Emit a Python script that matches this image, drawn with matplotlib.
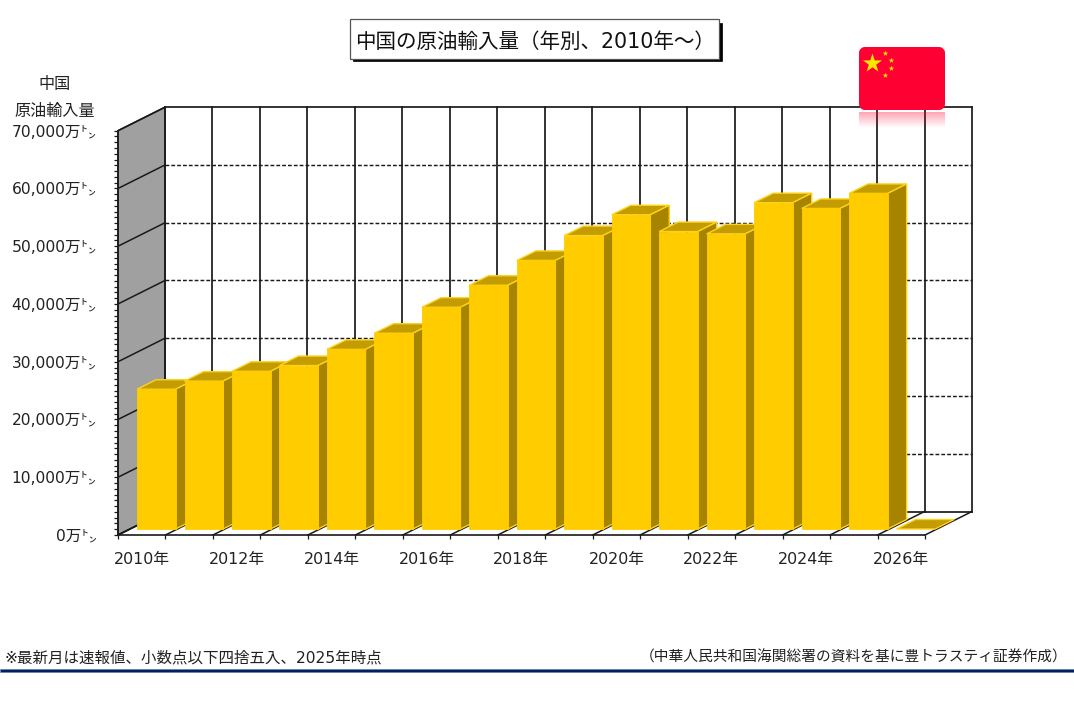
import numpy as np
import matplotlib
matplotlib.use("Agg")
import matplotlib.pyplot as plt
from matplotlib.patches import Polygon, Rectangle, FancyBboxPatch

plt.rcParams['font.family'] = ['DejaVu Sans', 'Noto Sans CJK JP']

years = list(range(2010, 2027))
values = [24200, 25600, 27300, 28300, 31100, 33900, 38400, 42200, 46500, 50800,
          54400, 51500, 51100, 56500, 55500, 58100, 0]
y_ticks = [0, 10000, 20000, 30000, 40000, 50000, 60000, 70000]
y_labels = ['0万㌧', '10,000万㌧', '20,000万㌧', '30,000万㌧', '40,000万㌧',
            '50,000万㌧', '60,000万㌧', '70,000万㌧']
title = '中国の原油輸入量（年別、2010年～）'
note_left = '※最新月は速報値、小数点以下四捨五入、2025年時点'
note_right = '（中華人民共和国海関総署の資料を基に豊トラスティ証券作成）'

W, H = 1074, 707
fig = plt.figure(figsize=(W / 100, H / 100), dpi=100, facecolor='white')
L, R, T, B = 118, 925, 130.7, 535
ax = fig.add_axes([L / W, 1 - B / H, (R - L) / W, (B - T) / H])
n = len(years)
ax.set_xlim(-0.5, n - 0.5)
ax.set_ylim(0, 70000)
ax.patch.set_alpha(0)

px = (R - L) / n            # pixels per category
py = (B - T) / 70000        # pixels per unit
DX, DY = 47 / px, 23.5 / py   # wall depth in data units
LINE = '#1A1A1A'

# left wall
ax.add_patch(Polygon([(-0.5, 0), (-0.5 + DX, DY), (-0.5 + DX, 70000 + DY), (-0.5, 70000)],
                     closed=True, fc='#A0A0A0', ec=LINE, lw=1.1, zorder=1, clip_on=False))
# back wall grid
for k in range(n + 1):
    xb = -0.5 + k + DX
    ax.plot([xb, xb], [DY, 70000 + DY], color=LINE, lw=1.25, zorder=1.5, clip_on=False)
    ax.plot([-0.5 + k, xb], [0, DY], color=LINE, lw=1.1, zorder=1.5, clip_on=False)
for v in y_ticks:
    ax.plot([-0.5, -0.5 + DX], [v, v + DY], color=LINE, lw=1.1, zorder=1.6, clip_on=False)
    style = dict(ls='-', lw=1.25) if v in (0, 70000) else dict(ls=(0, (2.6, 1.4)), lw=1.05)
    ax.plot([-0.5 + DX, n - 0.5 + DX], [v + DY, v + DY], color=LINE, zorder=1.6,
            clip_on=False, **style)

# bars
bw = 38.5 / px
bar_dx, bar_dy = 19 / px, 9.5 / py
base = 6 / py
off = 14.6 / px
FRONT, SIDE, TOP, EDGE = '#FFCC00', '#A68400', '#C29C00', '#FFD21A'
for i, v in enumerate(values):
    x0 = i + off - bw / 2
    x1 = x0 + bw
    z = 3 + i * 0.01
    y0, y1 = base, base + v
    ax.add_patch(Polygon([(x0, y1), (x1, y1), (x1 + bar_dx, y1 + bar_dy), (x0 + bar_dx, y1 + bar_dy)],
                         closed=True, fc=TOP, ec=EDGE, lw=1.0, zorder=z, clip_on=False))
    if v > 0:
        ax.add_patch(Polygon([(x1, y0), (x1 + bar_dx, y0 + bar_dy), (x1 + bar_dx, y1 + bar_dy), (x1, y1)],
                             closed=True, fc=SIDE, ec=EDGE, lw=1.0, zorder=z, clip_on=False))
        ax.bar(i + off, v, width=bw, bottom=base, color=FRONT, edgecolor=FRONT, lw=0.6,
               zorder=z + 0.001, clip_on=False)

# axes furniture
for s in ('top', 'right'):
    ax.spines[s].set_visible(False)
for s in ('left', 'bottom'):
    ax.spines[s].set_color(LINE)
    ax.spines[s].set_linewidth(1.2)
    ax.spines[s].set_zorder(5)
ax.set_yticks(y_ticks, y_labels, fontsize=11.2, color='#222222')
ax.set_yticks(np.arange(0, 70001, 1000), minor=True)
ax.tick_params(axis='y', which='both', length=3, width=0.9, color=LINE, pad=12.5)
centers = list(range(0, n, 2))
ax.set_xticks(centers, [f'{years[i]}年' for i in centers], fontsize=11.4, color='#222222')
ax.set_xticks(np.arange(n + 1) - 0.5, minor=True)
ax.tick_params(axis='x', which='major', length=0, pad=12.5)
ax.tick_params(axis='x', which='minor', length=3, width=0.9, color=LINE)

# overlay in pixel coordinates for titles, flag, footer
ov = fig.add_axes([0, 0, 1, 1])
ov.set_xlim(0, W)
ov.set_ylim(H, 0)
ov.axis('off')
ov.patch.set_alpha(0)

ov.add_patch(Rectangle((353, 23), 369, 38, fc='black', ec='black', lw=0.5, zorder=2))
ov.add_patch(Rectangle((350, 19), 369, 40, fc='white', ec='#555555', lw=0.9, zorder=3))
ov.text(355, 41.5, title, fontsize=14.8, color='#111111', va='center', ha='left', zorder=4)

ov.text(55, 84, '中国', fontsize=11.6, color='#222222', ha='center', va='center')
ov.text(55, 111, '原油輸入量', fontsize=11.6, color='#222222', ha='center', va='center')

# flag and its reflection
ov.add_patch(FancyBboxPatch((862, 50), 80, 57, boxstyle='round,pad=0,rounding_size=3',
                            mutation_aspect=1, fc='#FF0033', ec='#FF0033', lw=6 * 0.72 * 1.0,
                            joinstyle='round', zorder=6))
grad = np.zeros((32, 2, 4))
grad[..., :3] = matplotlib.colors.to_rgb('#FF0033')
grad[..., 3] = np.linspace(0.36, 0, 32)[:, None]
ov.imshow(grad, extent=(859, 945, 128, 112), aspect='auto', zorder=6, interpolation='bilinear')
ov.set_xlim(0, W)
ov.set_ylim(H, 0)
ov.scatter([872], [63], marker='*', s=210, c='#FFE600', linewidths=0, zorder=7)
ov.scatter([885, 891, 891, 885], [53, 59.5, 68, 75], marker='*', s=18, c='#FFE600',
           linewidths=0, zorder=7)

ov.text(4, 657.5, note_left, fontsize=11.15, color='#222222', ha='left', va='center')
ov.text(1067, 657.5, note_right, fontsize=10.6, color='#222222', ha='right', va='center')
ov.add_patch(Rectangle((0, 668.5), W, 3.5, fc='#002060', ec='#5B7FA8', lw=0.4))

fig.savefig('out.png', dpi=100, facecolor='white')
